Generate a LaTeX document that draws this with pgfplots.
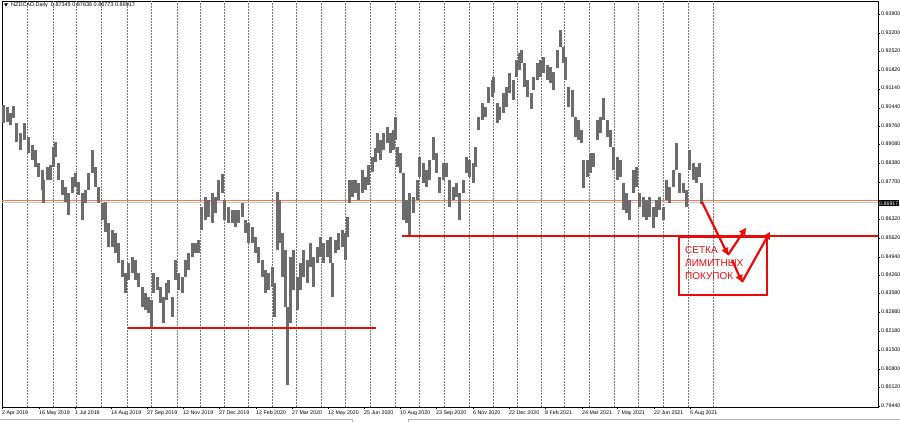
\documentclass[border=0pt]{standalone}
\usepackage{pgfplots}
\pgfplotsset{compat=1.18}
\usepackage{pgfplotstable}
\usepackage{fontspec}
\setmainfont{Liberation Sans}
\usetikzlibrary{arrows.meta}

\definecolor{barcol}{RGB}{108,108,108}
\definecolor{bidline}{RGB}{255,120,75}
\definecolor{askline}{RGB}{200,200,200}
\definecolor{mtred}{RGB}{235,10,10}
\definecolor{gridcol}{RGB}{120,120,120}

% NZDCAD daily: x = bar position, lo / hi = bar range
\pgfplotstableread{
x lo hi
3 0.8988 0.9054
7 0.8992 0.9047
10 0.8980 0.9025
13 0.9006 0.9051
16 0.8918 0.8988
20 0.8888 0.8951
24 0.8925 0.8988
28 0.8877 0.8936
32 0.8851 0.8907
35 0.8826 0.8888
38 0.8789 0.8840
42 0.8741 0.8814
43 0.8693 0.8778
47 0.8778 0.8826
50 0.8778 0.8833
53 0.8826 0.8899
55 0.8862 0.8918
58 0.8778 0.8840
62 0.8722 0.8778
65 0.8696 0.8752
68 0.8648 0.8730
72 0.8730 0.8789
75 0.8752 0.8803
78 0.8722 0.8770
82 0.8630 0.8730
85 0.8693 0.8741
88 0.8741 0.8803
92 0.8803 0.8888
95 0.8752 0.8826
98 0.8693 0.8752
102 0.8630 0.8693
105 0.8586 0.8696
108 0.8530 0.8619
112 0.8530 0.8593
115 0.8508 0.8582
118 0.8471 0.8545
122 0.8420 0.8483
125 0.8361 0.8435
128 0.8409 0.8471
132 0.8435 0.8494
135 0.8409 0.8483
138 0.8383 0.8435
142 0.8309 0.8383
145 0.8298 0.8361
148 0.8287 0.8346
151 0.8235 0.8335
153 0.8361 0.8435
157 0.8372 0.8420
160 0.8324 0.8383
163 0.8250 0.8346
166 0.8335 0.8398
168 0.8361 0.8409
172 0.8272 0.8346
175 0.8409 0.8483
178 0.8372 0.8435
182 0.8361 0.8420
185 0.8420 0.8483
188 0.8446 0.8508
192 0.8494 0.8545
195 0.8508 0.8545
198 0.8508 0.8556
201 0.8593 0.8678
205 0.8630 0.8715
208 0.8641 0.8704
212 0.8619 0.8730
215 0.8656 0.8715
218 0.8704 0.8778
222 0.8730 0.8800
224 0.8630 0.8704
228 0.8619 0.8678
232 0.8619 0.8667
235 0.8604 0.8667
238 0.8619 0.8667
242 0.8641 0.8693
245 0.8582 0.8630
248 0.8545 0.8619
252 0.8545 0.8604
255 0.8508 0.8567
258 0.8471 0.8530
262 0.8420 0.8483
265 0.8361 0.8446
268 0.8372 0.8435
272 0.8383 0.8457
274 0.8272 0.8398
277 0.8519 0.8733
279 0.8545 0.8704
282 0.8420 0.8582
285 0.8309 0.8519
287 0.8021 0.8309
290 0.8250 0.8494
293 0.8372 0.8519
297 0.8298 0.8420
300 0.8372 0.8471
303 0.8420 0.8519
307 0.8398 0.8483
310 0.8457 0.8545
313 0.8383 0.8494
317 0.8471 0.8530
320 0.8494 0.8567
323 0.8471 0.8545
327 0.8494 0.8556
330 0.8471 0.8567
332 0.8346 0.8471
335 0.8508 0.8556
338 0.8519 0.8582
342 0.8530 0.8593
345 0.8483 0.8582
347 0.8567 0.8641
349 0.8693 0.8778
352 0.8715 0.8778
355 0.8730 0.8778
358 0.8704 0.8767
362 0.8730 0.8814
365 0.8741 0.8789
368 0.8759 0.8833
372 0.8807 0.8862
375 0.8844 0.8896
377 0.8877 0.8951
380 0.8851 0.8925
383 0.8888 0.8951
387 0.8914 0.8973
390 0.8877 0.8951
393 0.8888 0.8962
395 0.8925 0.9010
397 0.8826 0.8899
400 0.8803 0.8877
403 0.8630 0.8803
406 0.8619 0.8704
409 0.8575 0.8730
413 0.8656 0.8715
417 0.8704 0.8778
419 0.8789 0.8862
423 0.8767 0.8840
426 0.8752 0.8814
429 0.8778 0.8851
433 0.8851 0.8936
436 0.8803 0.8877
439 0.8730 0.8789
443 0.8778 0.8840
446 0.8789 0.8840
449 0.8678 0.8778
453 0.8704 0.8752
456 0.8715 0.8767
459 0.8630 0.8730
463 0.8730 0.8778
466 0.8803 0.8862
469 0.8789 0.8851
473 0.8767 0.8840
475 0.8826 0.8899
478 0.8962 0.9010
482 0.8999 0.9062
485 0.9010 0.9047
488 0.9062 0.9121
492 0.9084 0.9146
493 0.9098 0.9157
497 0.8988 0.9062
499 0.8999 0.9047
503 0.9025 0.9098
506 0.9047 0.9121
509 0.9098 0.9172
513 0.9073 0.9146
516 0.9157 0.9220
519 0.9183 0.9246
521 0.9209 0.9257
524 0.9121 0.9209
527 0.9084 0.9146
531 0.9039 0.9098
533 0.9110 0.9157
537 0.9146 0.9209
540 0.9157 0.9220
543 0.9172 0.9231
547 0.9146 0.9202
550 0.9135 0.9194
553 0.9110 0.9176
557 0.9191 0.9257
560 0.9268 0.9331
563 0.9209 0.9268
565 0.9146 0.9231
568 0.9047 0.9121
572 0.9010 0.9110
575 0.8936 0.9010
578 0.8925 0.8999
581 0.8914 0.8962
583 0.8748 0.8851
587 0.8789 0.8851
590 0.8803 0.8877
593 0.8826 0.8877
597 0.8925 0.8999
600 0.8951 0.9010
603 0.8999 0.9080
607 0.8936 0.8999
610 0.8899 0.8962
613 0.8814 0.8899
617 0.8778 0.8862
620 0.8789 0.8851
623 0.8667 0.8767
626 0.8656 0.8730
629 0.8630 0.8704
633 0.8730 0.8814
636 0.8752 0.8826
639 0.8678 0.8730
643 0.8641 0.8715
646 0.8630 0.8704
649 0.8641 0.8715
653 0.8601 0.8678
656 0.8641 0.8704
659 0.8667 0.8715
663 0.8630 0.8678
666 0.8704 0.8778
669 0.8693 0.8752
673 0.8752 0.8814
676 0.8814 0.8914
679 0.8730 0.8803
683 0.8730 0.8767
686 0.8678 0.8741
689 0.8814 0.8888
693 0.8778 0.8840
696 0.8767 0.8826
699 0.8789 0.8840
701 0.8689 0.8767
}\bars

\begin{document}
\begin{tikzpicture}[x=1pt,y=1pt]
\useasboundingbox (0,0) rectangle (900,422);
\fill[white] (0,0) rectangle (900,422);
\begin{axis}[
    at={(2pt,15pt)}, anchor=south west,
    width=876pt, height=406pt, scale only axis,
    xmin=2, xmax=878,
    ymin=0.79403, ymax=0.94378,
    clip=false,
    axis line style={black, line width=0.6pt},
    tick align=outside,
    major tick length=2pt,
    tick style={black, line width=0.5pt},
    xtick pos=bottom,
    ytick pos=right,
    yticklabel pos=right,
    /pgf/number format/assume math mode=true,
    typeset ticklabels with strut,
    ticklabel style={font=\fontsize{5.3}{6}\selectfont, text=black},
    xticklabel style={anchor=north west, xshift=-1pt, inner sep=1pt},
    yticklabel style={inner sep=1pt},
    xtick={2,39,75,111,147,183,219,256,292,328,364,400,436,473,509,545,582,617,654,690},
    xticklabels={2 Apr 2019,16 May 2019,1 Jul 2019,14 Aug 2019,27 Sep 2019,12 Nov 2019,27 Dec 2019,12 Feb 2020,27 Mar 2020,12 May 2020,25 Jun 2020,10 Aug 2020,23 Sep 2020,6 Nov 2020,22 Dec 2020,8 Feb 2021,24 Mar 2021,7 May 2021,22 Jun 2021,5 Aug 2021},
    ytick={0.939,0.932,0.9252,0.9182,0.9114,0.9044,0.8976,0.8908,0.8838,0.877,0.8632,0.8562,0.8494,0.8426,0.8358,0.8288,0.8218,0.815,0.808,0.8012,0.7944},
    yticklabels={0.93900,0.93200,0.92520,0.91820,0.91140,0.90440,0.89760,0.89080,0.88380,0.87700,0.86320,0.85620,0.84940,0.84260,0.83580,0.82880,0.82180,0.81500,0.80800,0.80120,0.79440},
    extra x ticks={27,53,76,101,127,151,177,200,224,248,272,296,321,345,370,395,419,444,469,493,517,541,564,589,614,638,663,688,713},
    extra x tick labels={},
    extra x tick style={grid=major, major tick length=0pt,
        major grid style={gridcol, line width=0.5pt, dash pattern=on 1.5pt off 1.5pt}},
]

% horizontal price lines
\draw[askline, line width=0.6pt] (axis cs:2,0.8695) -- (axis cs:878,0.8695);
\draw[bidline, line width=0.8pt] (axis cs:2,0.8702) -- (axis cs:878,0.8702);

% daily bars, low to high
\addplot[barcol, line width=3pt, mark=none,
    quiver={u=0, v=\thisrow{hi}-\thisrow{lo}}]
    table[x=x, y=lo] {\bars};

% support lines
\draw[mtred, line width=1.3pt] (axis cs:128,0.8232) -- (axis cs:376,0.8232);
\draw[mtred, line width=1.2pt] (axis cs:402,0.8571) -- (axis cs:878,0.8571);

% buy-limit grid annotation
\draw[mtred, line width=2.4pt] (axis cs:679,0.8567) rectangle (axis cs:767,0.8353);
\begin{scope}[mtred, line width=2.2pt, -{Triangle[length=7pt,width=7pt]}]
\draw (axis cs:702,0.8696) -- (axis cs:728,0.8501);
\draw (axis cs:728,0.8501) -- (axis cs:746,0.8601);
\draw (axis cs:732,0.8483) -- (axis cs:742,0.8401);
\draw (axis cs:742,0.8401) -- (axis cs:770,0.8586);
\end{scope}
\begin{scope}[every node/.style={anchor=base west, text=mtred, inner sep=0pt,
    font=\fontsize{10}{12}\selectfont}]
\node at (axis cs:685,0.8508) {СЕТКА};
\node at (axis cs:685,0.8460) {ЛИМИТНЫХ};
\node at (axis cs:685,0.8412) {ПОКУПОК};
\end{scope}

% current price marker
\node[fill=black, text=white, anchor=west, inner xsep=1pt, inner ysep=1pt,
    font=\fontsize{5.3}{6}\selectfont] at (axis cs:878,0.86917) {0.86917};
\end{axis}

% chart header
\fill[black] (4,418.5) -- (8,418.5) -- (6,415.5) -- cycle;
\node[anchor=west, inner sep=0pt, font=\fontsize{5.5}{6}\selectfont] at (11,417)
    {NZDCAD,Daily\ \ 0.87345 0.87636 0.86773 0.86917};

% tab strip at the bottom
\draw[gray!60, line width=0.5pt] (0,3) -- (352,3) -- (352,0);
\draw[gray!60, line width=0.5pt] (408,0) -- (408,3) -- (900,3);
\end{tikzpicture}
\end{document}
